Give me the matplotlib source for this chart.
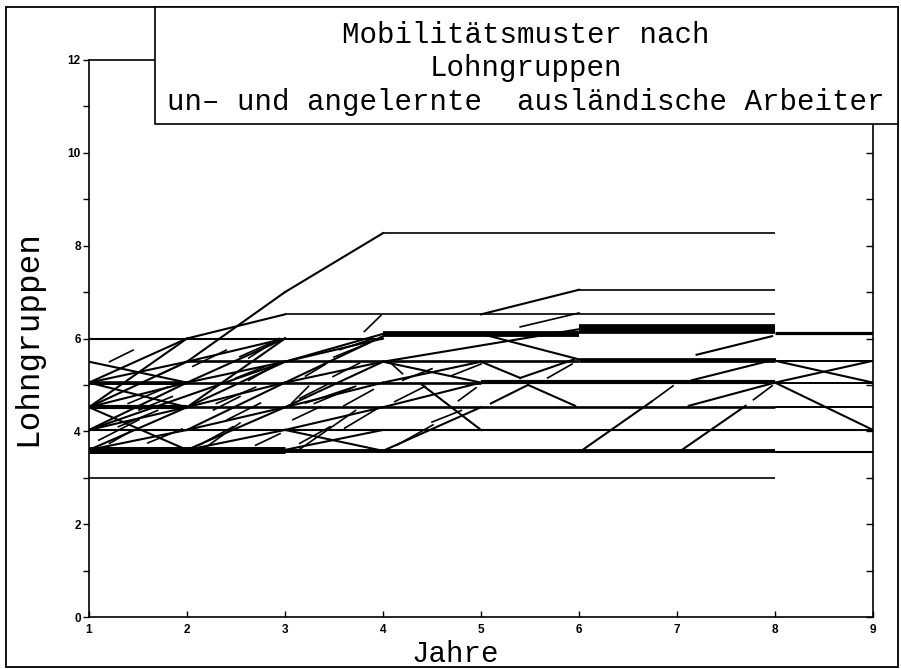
import matplotlib
matplotlib.use('Agg')
import matplotlib.pyplot as plt
from matplotlib.patches import Rectangle

# Jahre (x) und Lohngruppen (y)
x_ticks = [1, 2, 3, 4, 5, 6, 7, 8, 9]
y_major = [0, 2, 4, 6, 8, 10, 12]
y_minor = list(range(13))

title_lines = ["Mobilitätsmuster nach",
               "Lohngruppen",
               "un\u2013 und angelernte  ausländische Arbeiter"]

# Verbleiber: horizontale Abschnitte (von Jahr, bis Jahr, Lohngruppe, Strichstärke)
h_x0 = [1, 1, 3, 8, 1, 1, 8, 1, 5, 8, 2, 6, 8, 1, 4, 6, 8, 3, 6, 4, 1, 1]
h_x1 = [8, 3, 8, 9, 9, 8, 9, 5, 8, 9, 6, 8, 9, 4, 6, 8, 9, 8, 8, 8, 2, 2]
h_y = [3.0, 3.6, 3.58, 3.55, 4.03, 4.52, 4.52, 5.05, 5.06, 5.05, 5.52, 5.53,
       5.52, 6.0, 6.1, 6.2, 6.12, 6.52, 7.05, 8.27, 4.52, 5.05]
h_lw = [1.2, 5.0, 2.8, 1.5, 1.5, 1.9, 1.4, 1.9, 3.0, 1.4, 1.9, 3.4,
        1.4, 1.5, 4.2, 7.0, 2.3, 1.2, 1.2, 1.2, 3.0, 2.6]

# Wechsel zwischen Lohngruppen
m_x0 = [1, 1, 1, 1, 1, 1, 1, 1, 1, 1, 1, 1, 1,
        2, 2, 3, 2, 2, 2, 2, 2, 2, 2, 2, 2, 2,
        3, 3, 3, 3, 3, 3, 3, 3, 3,
        4, 4, 4.4, 4, 4, 4,
        5, 5, 5, 5.4, 5.1, 5.48, 6.05, 7.05, 7.12, 7.15, 7.2,
        8, 8, 8]
m_y0 = [5.5, 5.05, 5.05, 5.05, 4.52, 4.52, 4.52, 4.03, 4.03, 4.03, 3.6, 4.52, 3.6,
        6.0, 5.5, 7.0, 5.5, 5.05, 5.05, 4.52, 4.52, 4.03, 4.03, 3.6, 3.6, 4.52,
        5.5, 5.5, 5.05, 5.05, 4.52, 4.52, 4.03, 4.03, 3.6,
        5.5, 5.5, 5.0, 3.58, 5.05, 4.52,
        6.52, 6.1, 5.5, 5.15, 4.6, 5.0, 3.62, 3.6, 4.55, 5.1, 5.65,
        5.52, 5.05, 5.05]
m_x1 = [2, 2, 2, 2, 2, 2, 2, 2, 2, 3, 2, 2, 2,
        3, 3, 4, 3, 3, 3, 3, 3, 3, 3, 3, 3, 3,
        4, 4, 4, 4, 4, 4, 4, 4, 4,
        6, 5, 5, 5, 5, 5,
        6, 6, 5.4, 5.95, 5.48, 5.96, 6.74, 7.7, 8, 8, 7.97,
        9, 9, 9]
m_y1 = [5.05, 6.0, 5.5, 4.52, 5.05, 5.5, 3.6, 4.52, 5.05, 5.5, 4.03, 6.0, 4.52,
        6.52, 7.0, 8.27, 6.0, 5.5, 6.0, 5.05, 5.5, 4.52, 5.05, 4.03, 4.52, 6.0,
        6.1, 6.0, 5.5, 6.05, 5.05, 5.5, 4.52, 3.58, 4.03,
        6.2, 5.05, 4.03, 4.52, 5.5, 5.05,
        7.05, 5.55, 5.15, 5.55, 5.0, 4.55, 4.64, 4.55, 5.05, 5.55, 6.05,
        5.05, 5.52, 4.03]

# kurze Teilstücke
f_x0 = [1.21, 2.06, 2.54, 2.13, 2.2, 2.41, 3.15, 4.14, 3.15, 3.49, 1.1, 1.21,
        3.56, 2.27, 1.51, 3.08, 3.81, 5.4, 2.63, 2.63, 3.21, 3.07, 3.21, 3.14,
        3.61, 4.12, 4.77, 4.09, 4.7, 5.68, 6.74, 7.78,
        1.3, 1.6, 1.4, 1.7, 2.3, 2.5, 2.7, 3.3, 3.5, 3.6, 4.2, 4.5]
f_y0 = [5.5, 5.4, 5.61, 3.71, 3.67, 4.25, 3.74, 3.7, 4.71, 5.18, 3.81, 3.74,
        5.76, 4.46, 4.46, 4.25, 6.15, 6.25, 5.58, 5.1, 5.19, 4.61, 4.61, 3.6,
        4.07, 4.64, 4.66, 5.45, 5.2, 5.15, 4.64, 4.68,
        4.1, 3.75, 4.6, 5.2, 4.6, 5.15, 3.7, 4.6, 5.6, 4.55, 5.1, 4.2]
f_x1 = [1.45, 2.4, 2.85, 2.47, 2.54, 2.75, 3.46, 4.51, 3.46, 3.76, 1.51, 1.45,
        3.9, 2.54, 1.85, 3.36, 3.98, 6.0, 2.94, 2.94, 3.41, 3.24, 3.72, 3.72,
        3.95, 4.43, 4.95, 4.2, 5.0, 5.93, 6.96, 7.97,
        1.7, 1.95, 1.8, 1.95, 2.7, 2.8, 2.95, 3.7, 3.85, 3.9, 4.5, 4.8]
f_y1 = [5.75, 5.75, 5.9, 4.1, 4.18, 4.61, 4.1, 4.14, 5.04, 5.47, 4.25, 4.03,
        6.0, 4.75, 4.75, 4.53, 6.5, 6.55, 6.0, 5.47, 5.44, 4.97, 4.97, 4.45,
        4.5, 4.97, 4.94, 5.24, 5.45, 5.45, 4.98, 4.98,
        4.45, 4.05, 4.95, 5.45, 4.95, 5.4, 3.95, 4.95, 5.9, 4.9, 5.35, 4.45]

W, H = 901, 669
fig = plt.figure(figsize=(W / 100, H / 100), dpi=100)
ax = fig.add_axes([89 / W, 1 - 617 / H, (873 - 89) / W, (617 - 60) / H])

for a, b, y, lw in zip(h_x0, h_x1, h_y, h_lw):
    ax.plot([a, b], [y, y], color='black', lw=lw, solid_capstyle='butt')
for a, y0, b, y1 in zip(m_x0, m_y0, m_x1, m_y1):
    ax.plot([a, b], [y0, y1], color='black', lw=1.5)
for a, y0, b, y1 in zip(f_x0, f_y0, f_x1, f_y1):
    ax.plot([a, b], [y0, y1], color='black', lw=1.2)

ax.set_xlim(1, 9)
ax.set_ylim(0, 12)
ax.set_xticks(x_ticks)
ax.set_yticks(y_major)
ax.set_yticks(y_minor, minor=True)
tick_font = dict(family='Liberation Sans', weight='bold', size=8.5)
ax.set_xticklabels([str(v) for v in x_ticks], **tick_font)
ax.set_yticklabels([str(v) for v in y_major], **tick_font)
ax.tick_params(axis='x', direction='in', length=4, width=1, pad=5, top=False)
ax.tick_params(axis='y', which='both', direction='out', length=4, width=1,
               pad=2, right=False)
for s in ax.spines.values():
    s.set_linewidth(1.2)

ax2 = ax.twinx()
ax2.set_ylim(0, 12)
ax2.set_yticks(y_minor)
ax2.tick_params(axis='y', direction='in', length=5, width=1, labelright=False)
for s in ax2.spines.values():
    s.set_visible(False)

# Rahmen und Titelkasten
fig.add_artist(Rectangle((6 / W, 2 / H), (898 - 6) / W, (667 - 7) / H,
                         transform=fig.transFigure, fill=False, lw=1.3,
                         edgecolor='black', zorder=4))
fig.add_artist(Rectangle((155 / W, 1 - 124 / H), (898 - 155) / W, (124 - 7) / H,
                         transform=fig.transFigure, facecolor='white',
                         edgecolor='black', lw=1.2, zorder=5))

mono = 'Liberation Mono'
for i, line in enumerate(title_lines):
    fig.text(526 / W, 1 - (43 + 33.5 * i) / H, line, ha='center',
             va='baseline', family=mono, fontsize=21, zorder=6)
fig.text(455 / W, 1 - 662 / H, "Jahre", ha='center', va='baseline',
         family=mono, fontsize=21)
fig.text(28 / W, 1 - 338 / H, "Lohngruppen", ha='center', va='center',
         rotation=90, family=mono, fontsize=23.5)

fig.savefig('out.png', dpi=100, facecolor='white')
